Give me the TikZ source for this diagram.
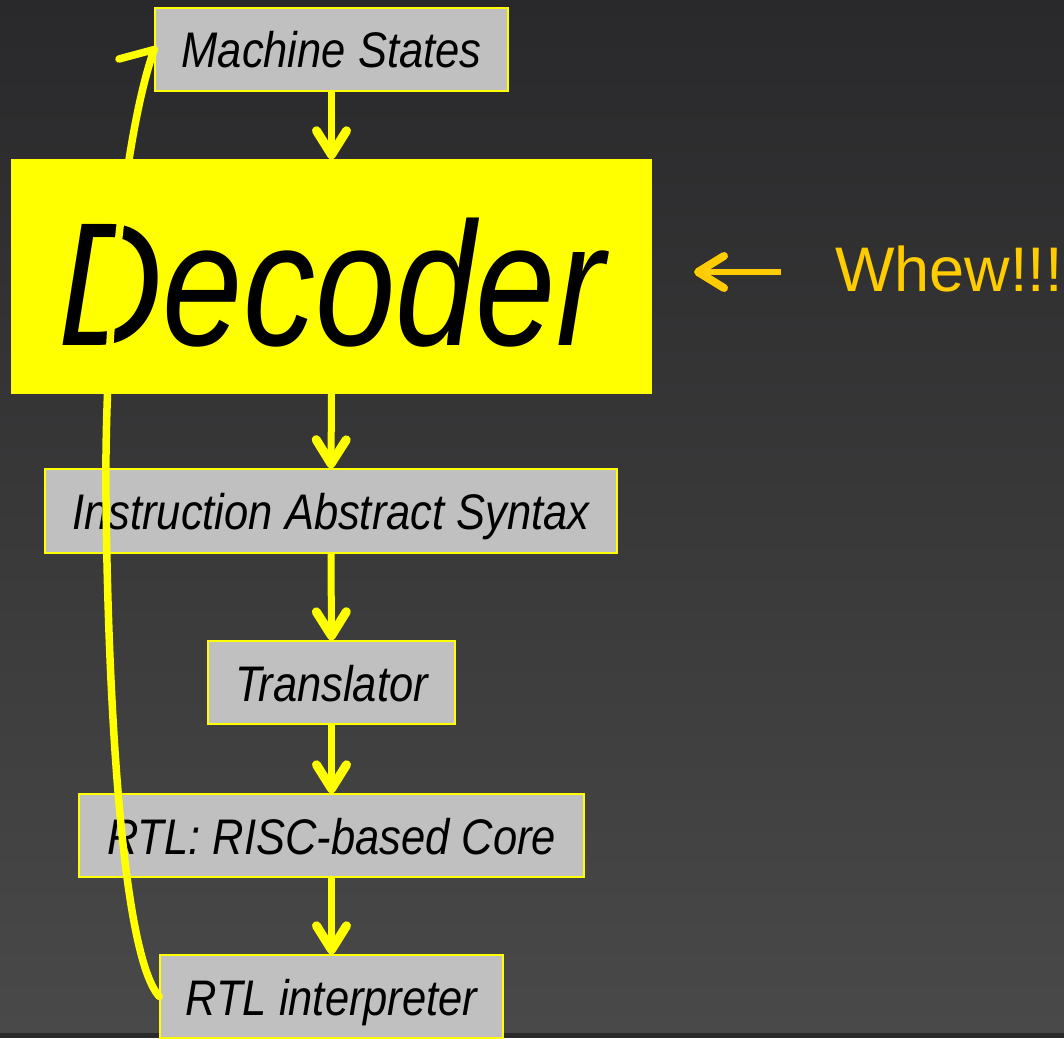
\documentclass[tikz,border=0pt]{standalone}
\usepackage{fontspec}
\setmainfont{Liberation Sans}
\newfontfamily\labelfont{Liberation Sans}[FakeStretch=0.87]
\newfontfamily\bigfont{Liberation Sans}[FakeStretch=0.82]
\usetikzlibrary{arrows.meta}
\definecolor{bgtop}{HTML}{29282A}
\definecolor{bgbot}{HTML}{494949}
\definecolor{strip}{HTML}{2A2A2A}
\definecolor{boxgray}{HTML}{C0C0C0}
\definecolor{hiyellow}{HTML}{FFFF00}
\definecolor{gold}{HTML}{FFCC00}
\tikzset{
  stage/.style={draw=hiyellow, line width=1.5pt, fill=boxgray, inner sep=0pt,
    font=\labelfont\itshape\fontsize{50}{60}\selectfont,
    text height=37pt, text depth=0pt},
  flow/.style={hiyellow, line width=7pt,
    -{Straight Barb[length=24pt,width=30pt,round,line width=9pt]}},
  loopline/.style={hiyellow, line width=7.5pt, line cap=round, line join=round},
}
\begin{document}
\begin{tikzpicture}[x=1pt, y=-1pt]
  \useasboundingbox (0,0) rectangle (1064,1038);
  % backdrop
  \shade[top color=bgtop, bottom color=bgbot] (0,0) rectangle (1064,1033);
  \fill[strip] (0,1033) rectangle (1064,1038);

  % pipeline stages
  \node[stage, minimum width=353pt, minimum height=83pt] (ms) at (331.5,49.5) {Machine States};
  \node[draw=hiyellow, line width=1.5pt, fill=hiyellow, inner sep=0pt,
        minimum width=639pt, minimum height=233pt,
        font=\bigfont\itshape\fontsize{176}{200}\selectfont,
        text height=137pt, text depth=0pt] (dec) at (331.5,276.5) {Decoder};
  \node[stage, minimum width=572pt, minimum height=84pt] (ias) at (331,511) {Instruction Abstract Syntax};
  \node[stage, minimum width=247pt, minimum height=83pt] (tr) at (331.5,682.5) {Translator};
  \node[stage, minimum width=505pt, minimum height=83pt] (core) at (331.5,835.5) {RTL: RISC-based Core};
  \node[stage, minimum width=343pt, minimum height=83pt] (rtli) at (331.5,996.5) {RTL interpreter};

  % downward flow
  \draw[flow] (ms.south) -- (dec.north);
  \draw[flow] (dec.south) -- (ias.north);
  \draw[flow] (ias.south) -- (tr.north);
  \draw[flow] (tr.south) -- (core.north);
  \draw[flow] (core.south) -- (rtli.north);

  % feedback loop from the interpreter back to the machine states
  \coordinate (barb) at (119,59);
  \draw[loopline] (rtli.west) .. controls (122,955) and (108,700) .. (106,500)
    .. controls (104,330) and (125,130) .. (ms.west) -- (barb);

  % side remark
  \node[anchor=base west, inner sep=0pt, text=gold,
        font=\fontsize{63}{70}\selectfont] (whew) at (835,291) {Whew!!!};
  \coordinate (wtail) at (781,272);
  \coordinate (wtip) at (694,272);
  \draw[gold, line width=5.5pt,
        -{Straight Barb[length=26pt,width=32pt,round,line width=8pt]}] (wtail) -- (wtip);
\end{tikzpicture}
\end{document}
